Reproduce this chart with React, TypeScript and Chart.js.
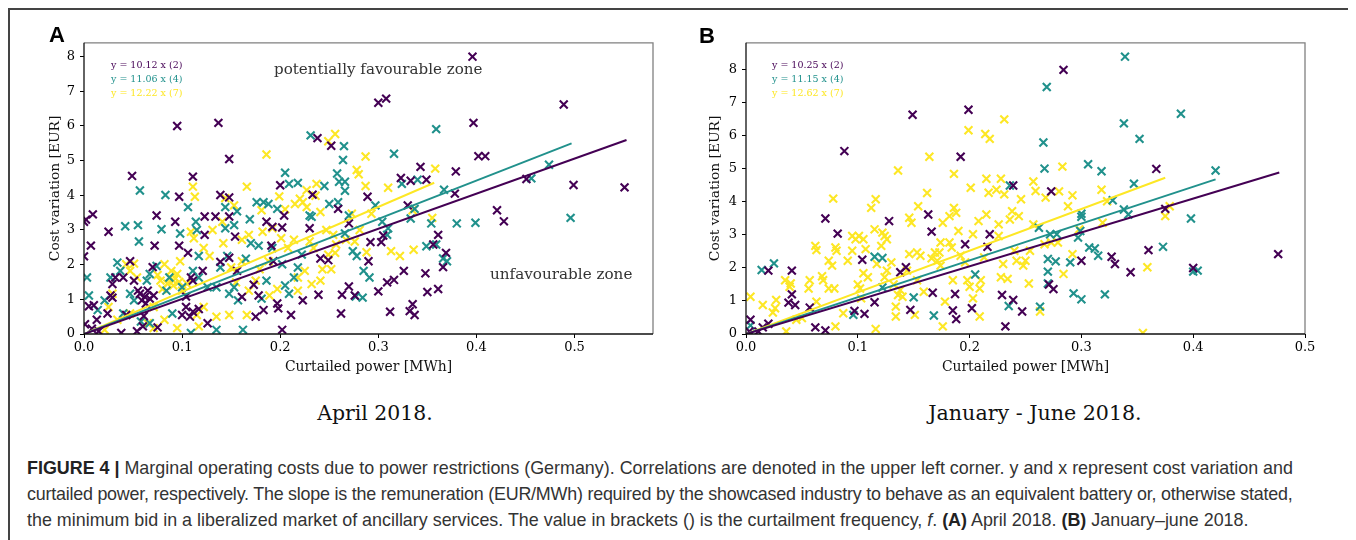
import React, { useEffect, useRef } from "react";
import { Chart, registerables } from "chart.js";

Chart.register(...registerables);

type Pt = [number, number];

const PURPLE = "#440154";
const TEAL = "#21918c";
const YELLOW = "#fde725";
const SERIES_COLORS = [PURPLE, TEAL, YELLOW];

const xTicks = [0, 0.1, 0.2, 0.3, 0.4, 0.5];
const yTicks = [0, 1, 2, 3, 4, 5, 6, 7, 8];

// ---------- Panel A: April 2018 ----------
const aprPurple: Pt[] = [
  [0.396, 8.0], [0.095, 6.0], [0.137, 6.09], [0.3, 6.67], [0.308, 6.79], [0.397, 6.09], [0.489, 6.62],
  [0.238, 5.65], [0.252, 5.43], [0.148, 5.05], [0.049, 4.56], [0.111, 4.54], [0.402, 5.13], [0.409, 5.13],
  [0.343, 4.82], [0.323, 4.5], [0.333, 4.42], [0.349, 4.45], [0.379, 4.69], [0.451, 4.47], [0.499, 4.3],
  [0.551, 4.23], [0.2, 4.29], [0.233, 4.02], [0.289, 3.96], [0.097, 3.96], [0.139, 4.01], [0.148, 3.94],
  [0.378, 4.05],
  [0.0, 3.24], [0.002, 3.3], [0.009, 3.45], [0.007, 2.55], [0.0, 2.24], [0.025, 2.95], [0.074, 3.42],
  [0.072, 2.55], [0.047, 2.1], [0.093, 3.24], [0.097, 2.55], [0.106, 2.34], [0.123, 3.39], [0.134, 3.39],
  [0.148, 3.39], [0.123, 2.86], [0.139, 2.08], [0.121, 1.82], [0.109, 1.63], [0.111, 1.54], [0.148, 2.2],
  [0.154, 2.81], [0.156, 1.82], [0.161, 1.07], [0.173, 1.42], [0.175, 0.5], [0.178, 1.11], [0.183, 0.69],
  [0.186, 3.24], [0.192, 3.09], [0.191, 2.55], [0.193, 2.1], [0.202, 3.07], [0.204, 3.42], [0.197, 0.88],
  [0.198, 0.74], [0.202, 0.12], [0.211, 0.55], [0.223, 0.97], [0.23, 3.05], [0.241, 2.18], [0.249, 2.13],
  [0.239, 1.13], [0.262, 0.59], [0.259, 3.61], [0.263, 1.13], [0.27, 1.37], [0.27, 3.19], [0.276, 1.11],
  [0.29, 2.1], [0.292, 2.65], [0.303, 2.65], [0.305, 2.84], [0.3, 1.23], [0.312, 0.64], [0.309, 1.49],
  [0.316, 1.56], [0.326, 1.82], [0.33, 3.71], [0.332, 0.66], [0.335, 0.86], [0.337, 0.55], [0.348, 1.75],
  [0.35, 1.21], [0.356, 2.58], [0.361, 2.86], [0.361, 1.3], [0.369, 2.34], [0.366, 1.93], [0.421, 3.57],
  [0.428, 3.25],
  [0.001, 0.28], [0.005, 0.8], [0.01, 0.83], [0.013, 0.41], [0.008, 0.15], [0.015, 0.08], [0.024, 0.59],
  [0.027, 1.11], [0.029, 1.44], [0.032, 1.63], [0.029, 1.05], [0.043, 0.55], [0.04, 1.63], [0.051, 1.54],
  [0.055, 1.25], [0.057, 1.16], [0.062, 1.07], [0.067, 1.02], [0.059, 0.97], [0.063, 0.88], [0.065, 1.25],
  [0.07, 1.93], [0.071, 1.11], [0.038, 0.03], [0.054, 0.08], [0.06, 0.22], [0.075, 0.19], [0.061, 0.52],
  [0.104, 0.78], [0.108, 0.5], [0.111, 0.64], [0.117, 0.72], [0.126, 0.31], [0.1, 0.55], [0.104, 1.08],
];

const aprTeal: Pt[] = [
  [0.231, 5.73], [0.265, 5.42], [0.264, 5.02], [0.258, 4.63], [0.205, 4.65], [0.209, 4.33], [0.218, 4.36],
  [0.245, 4.27], [0.26, 4.39], [0.266, 4.39], [0.316, 5.2], [0.324, 4.33], [0.34, 4.45], [0.359, 5.91],
  [0.367, 4.16], [0.456, 4.49], [0.474, 4.88], [0.057, 4.14], [0.083, 4.01],
  [0.042, 3.11], [0.055, 3.14], [0.079, 3.02], [0.056, 2.67], [0.106, 3.66], [0.098, 2.9], [0.114, 3.24],
  [0.115, 3.0], [0.117, 2.25], [0.135, 0.12], [0.144, 3.66], [0.144, 3.05], [0.153, 3.14], [0.156, 3.54],
  [0.169, 3.31], [0.165, 2.17], [0.162, 0.12], [0.176, 3.8], [0.183, 3.8], [0.188, 3.75], [0.197, 3.61],
  [0.17, 2.62], [0.178, 2.55], [0.192, 2.48], [0.202, 2.01], [0.205, 1.4], [0.209, 1.16], [0.214, 1.63],
  [0.218, 1.92], [0.222, 2.29], [0.23, 3.42], [0.232, 3.38], [0.25, 3.75], [0.259, 3.8], [0.266, 4.13],
  [0.27, 3.42], [0.266, 2.9], [0.274, 2.39], [0.278, 2.25], [0.285, 1.82], [0.277, 1.08], [0.284, 1.05],
  [0.291, 1.63], [0.297, 3.71], [0.304, 3.24], [0.309, 2.86], [0.31, 3.05], [0.333, 3.33], [0.337, 3.61],
  [0.349, 2.53], [0.354, 3.19], [0.359, 2.58], [0.366, 2.18], [0.37, 2.1], [0.38, 3.19], [0.399, 3.21],
  [0.496, 3.35],
  [0.003, 1.63], [0.005, 1.11], [0.014, 0.69], [0.021, 0.97], [0.027, 1.63], [0.034, 2.06], [0.037, 1.82],
  [0.047, 1.16], [0.051, 0.97], [0.064, 1.54], [0.067, 1.73], [0.074, 1.96], [0.087, 1.63], [0.084, 1.25],
  [0.09, 0.59], [0.1, 1.35], [0.111, 1.82], [0.117, 1.63], [0.126, 1.35], [0.135, 1.35], [0.139, 1.92],
  [0.146, 2.25], [0.153, 1.35], [0.181, 1.02], [0.186, 1.54], [0.067, 0.31], [0.04, 0.59], [0.058, 0.36],
  [0.109, 0.03], [0.148, 1.16], [0.157, 0.97],
];

const aprYellow: Pt[] = [
  [0.256, 5.77], [0.249, 5.56], [0.186, 5.18], [0.287, 5.12], [0.278, 4.73], [0.28, 4.61], [0.358, 4.77],
  [0.166, 4.25], [0.111, 4.25], [0.227, 4.15], [0.237, 4.33], [0.287, 4.27], [0.31, 4.22], [0.199, 3.97],
  [0.113, 3.96],
  [0.236, 3.99], [0.223, 3.8], [0.227, 3.66], [0.241, 3.52], [0.181, 3.57], [0.144, 3.92], [0.153, 3.71],
  [0.109, 2.95], [0.112, 2.76], [0.131, 3.0], [0.141, 3.24], [0.142, 2.62], [0.161, 2.72], [0.168, 2.86],
  [0.182, 2.95], [0.192, 3.05], [0.201, 2.76], [0.208, 2.48], [0.214, 2.72], [0.23, 2.67], [0.234, 2.48],
  [0.247, 3.0], [0.254, 2.86], [0.257, 2.58], [0.249, 2.29], [0.243, 1.87], [0.252, 1.87], [0.256, 2.34],
  [0.267, 2.72], [0.281, 3.0], [0.293, 3.47], [0.273, 3.47], [0.241, 1.54], [0.232, 1.44], [0.225, 1.82],
  [0.218, 1.25], [0.218, 1.63], [0.197, 1.3], [0.189, 1.11], [0.175, 1.54], [0.168, 1.25], [0.155, 1.49],
  [0.148, 0.55], [0.135, 0.5], [0.122, 0.78], [0.115, 0.55], [0.1, 1.25], [0.091, 1.54], [0.082, 2.01],
  [0.089, 1.82], [0.095, 1.73], [0.088, 1.63], [0.091, 1.4], [0.078, 1.54], [0.098, 2.1], [0.047, 1.82],
  [0.043, 2.01], [0.051, 2.03], [0.054, 1.63], [0.029, 1.16], [0.025, 0.78], [0.034, 0.41], [0.021, 0.12],
  [0.047, 0.59], [0.065, 0.31], [0.071, 0.17], [0.082, 0.41], [0.095, 0.17], [0.313, 2.39], [0.322, 2.25],
  [0.336, 2.43], [0.355, 3.35], [0.335, 3.57], [0.288, 2.36], [0.276, 2.67], [0.188, 2.1], [0.179, 1.87],
  [0.161, 2.1], [0.122, 2.48], [0.128, 2.25], [0.15, 1.92], [0.166, 0.55], [0.117, 0.22], [0.071, 0.78],
  [0.085, 1.45], [0.093, 1.6], [0.08, 1.3], [0.097, 1.5], [0.105, 1.45], [0.075, 1.7], [0.215, 3.75],
  [0.22, 3.9], [0.205, 3.6],
];

const aprSlopes = [10.12, 11.06, 12.22];
const aprLineEnds = [0.553, 0.497, 0.357];
const aprLegend = ["y = 10.12 x (2)", "y = 11.06 x (4)", "y = 12.22 x (7)"];

// ---------- Panel B: January - June 2018 ----------
const janPurple: Pt[] = [
  [0.088, 5.54], [0.149, 6.64], [0.199, 6.79], [0.192, 5.37], [0.284, 8.0], [0.239, 4.5], [0.273, 4.32],
  [0.367, 5.0],
  [0.071, 3.5], [0.082, 3.04], [0.128, 3.42], [0.163, 3.62], [0.166, 3.1], [0.196, 2.72], [0.218, 3.02],
  [0.216, 2.64], [0.104, 2.25], [0.143, 2.02], [0.138, 1.87], [0.02, 1.92], [0.041, 1.92], [0.041, 1.2],
  [0.044, 0.88], [0.038, 0.95], [0.057, 0.8], [0.097, 0.7], [0.106, 0.61], [0.115, 0.96], [0.147, 0.73],
  [0.167, 1.25], [0.187, 1.21], [0.185, 0.71], [0.188, 0.45], [0.202, 0.78], [0.229, 1.18], [0.239, 1.03],
  [0.247, 0.68], [0.232, 0.23], [0.062, 0.2], [0.071, 0.11], [0.271, 1.5], [0.275, 1.36], [0.3, 2.22],
  [0.327, 2.34], [0.33, 2.12], [0.344, 1.87], [0.36, 2.54], [0.375, 3.79], [0.4, 2.0], [0.476, 2.42],
  [0.004, 0.43], [0.003, 0.08], [0.015, 0.2], [0.02, 0.31], [0.011, 0.08],
];

const janTeal: Pt[] = [
  [0.339, 8.4], [0.269, 7.48], [0.389, 6.67], [0.338, 6.38], [0.352, 5.91], [0.266, 5.8], [0.267, 5.01],
  [0.306, 5.14], [0.318, 4.93], [0.42, 4.95], [0.347, 4.55], [0.236, 4.5],
  [0.014, 1.94], [0.025, 2.14], [0.004, 0.26], [0.096, 0.58], [0.115, 2.34], [0.122, 2.3], [0.122, 1.41],
  [0.15, 1.11], [0.168, 0.56], [0.205, 1.8], [0.235, 0.85], [0.262, 3.22], [0.272, 3.02], [0.278, 3.02],
  [0.27, 2.27], [0.277, 2.2], [0.27, 1.89], [0.27, 1.53], [0.263, 0.83], [0.29, 2.17], [0.293, 1.23],
  [0.3, 1.05], [0.297, 2.92], [0.299, 3.12], [0.3, 3.64], [0.3, 3.55], [0.307, 2.62], [0.312, 2.59],
  [0.315, 2.37], [0.321, 1.2], [0.328, 4.05], [0.338, 3.77], [0.342, 3.62], [0.373, 2.64], [0.398, 3.5],
  [0.4, 1.89], [0.404, 1.92],
];

const janYellow: Pt[] = [
  [0.199, 6.17], [0.214, 6.06], [0.218, 5.91], [0.231, 6.5], [0.164, 5.37], [0.136, 4.95], [0.186, 4.85],
  [0.215, 4.7], [0.228, 4.7], [0.257, 4.62], [0.283, 5.07], [0.201, 4.43], [0.217, 4.28], [0.224, 4.37],
  [0.231, 4.23], [0.259, 4.33], [0.268, 4.13], [0.292, 4.2], [0.318, 4.37], [0.162, 4.27], [0.078, 4.1],
  [0.116, 4.08], [0.246, 4.08],
  [0.004, 1.13], [0.015, 0.88], [0.027, 1.03], [0.026, 0.78], [0.024, 0.65], [0.035, 1.63], [0.039, 1.43],
  [0.04, 1.53], [0.036, 0.08], [0.045, 0.43], [0.05, 0.48], [0.056, 1.38], [0.057, 1.63], [0.062, 2.67],
  [0.063, 2.54], [0.063, 0.98], [0.069, 1.63], [0.068, 1.75], [0.074, 2.22], [0.077, 2.07], [0.074, 1.38],
  [0.079, 1.38], [0.08, 2.62], [0.081, 2.52], [0.08, 0.23], [0.087, 0.63], [0.091, 2.22], [0.095, 2.97],
  [0.095, 2.52], [0.098, 2.87], [0.101, 2.97], [0.105, 2.87], [0.107, 2.57], [0.1, 1.5], [0.102, 1.38],
  [0.105, 1.84], [0.109, 1.72], [0.103, 1.08], [0.112, 3.82], [0.115, 3.17], [0.117, 2.12], [0.116, 0.15],
  [0.121, 2.67], [0.122, 3.07], [0.124, 2.97], [0.126, 2.87], [0.126, 1.92], [0.124, 1.72], [0.13, 2.17],
  [0.132, 1.5], [0.134, 0.83], [0.136, 1.18], [0.134, 0.53], [0.138, 1.33], [0.14, 1.13], [0.144, 1.92],
  [0.146, 2.42], [0.146, 3.52], [0.148, 3.37], [0.154, 3.87], [0.153, 2.47], [0.156, 2.37], [0.153, 1.63],
  [0.151, 0.58], [0.159, 1.28], [0.166, 2.29], [0.169, 2.47], [0.171, 2.22], [0.173, 2.47], [0.174, 2.77],
  [0.176, 3.37], [0.174, 2.07], [0.176, 0.23], [0.178, 0.98], [0.182, 3.57], [0.182, 2.77], [0.184, 2.62],
  [0.185, 1.63], [0.186, 3.82], [0.188, 3.67], [0.19, 3.12], [0.192, 2.37], [0.196, 2.17], [0.198, 1.63],
  [0.2, 1.43], [0.203, 1.08], [0.203, 3.02], [0.208, 3.42], [0.21, 1.63], [0.209, 1.38], [0.209, 0.53],
  [0.213, 2.32], [0.215, 3.62], [0.226, 3.32], [0.226, 2.97], [0.228, 1.72], [0.23, 2.12], [0.234, 1.67],
  [0.236, 3.47], [0.238, 3.72], [0.24, 2.52], [0.242, 2.22], [0.244, 3.57], [0.248, 2.07], [0.25, 2.22],
  [0.253, 1.53], [0.254, 2.52], [0.257, 3.32], [0.263, 0.68], [0.267, 2.72], [0.273, 2.77], [0.279, 2.77],
  [0.28, 4.32], [0.284, 1.82], [0.288, 3.87], [0.292, 2.42], [0.298, 3.17], [0.319, 3.37], [0.323, 4.02],
  [0.355, 0.03], [0.359, 2.02], [0.375, 3.57], [0.379, 3.87],
];

const janSlopes = [10.25, 11.15, 12.62];
const janLineEnds = [0.477, 0.42, 0.375];
const janLegend = ["y = 10.25 x (2)", "y = 11.15 x (4)", "y = 12.62 x (7)"];

const SERIF = "'DejaVu Serif', serif";
const SANS = "'Liberation Sans', Arial, sans-serif";

const spinesPlugin = {
  id: "spines",
  afterDraw(chart: any) {
    const { ctx, chartArea } = chart;
    const { left, top, right, bottom } = chartArea;
    ctx.save();
    ctx.lineWidth = 1.3;
    ctx.strokeStyle = "#808080";
    ctx.beginPath();
    ctx.moveTo(left, top);
    ctx.lineTo(right, top);
    ctx.lineTo(right, bottom);
    ctx.stroke();
    ctx.strokeStyle = "#111";
    ctx.beginPath();
    ctx.moveTo(left, top);
    ctx.lineTo(left, bottom);
    ctx.lineTo(right, bottom);
    ctx.stroke();
    ctx.restore();
  },
};

type PanelProps = {
  series: Pt[][];
  slopes: number[];
  ends: number[];
  xMax: number;
  yMax: number;
  width: number;
  height: number;
  yAxisWidth: number;
  padRight: number;
};

function Panel({ series, slopes, ends, xMax, yMax, width, height, yAxisWidth, padRight }: PanelProps) {
  const ref = useRef<HTMLCanvasElement>(null);
  useEffect(() => {
    if (!ref.current) return;
    const lineSets = slopes.map((s, i) => ({
      type: "line" as const,
      data: [
        { x: 0, y: 0 },
        { x: ends[i], y: s * ends[i] },
      ],
      borderColor: SERIES_COLORS[i],
      borderWidth: 2,
      pointRadius: 0,
      fill: false,
      order: 0,
    }));
    const scatterSets = series.map((pts, i) => ({
      type: "scatter" as const,
      data: pts.map(([x, y]) => ({ x, y })),
      pointStyle: "crossRot",
      pointRadius: 5.6,
      pointHoverRadius: 5.6,
      borderColor: SERIES_COLORS[i],
      backgroundColor: SERIES_COLORS[i],
      pointBorderWidth: 2.1,
      borderWidth: 2.1,
      order: 1 + i,
    }));
    const chart = new Chart(ref.current, {
      type: "scatter",
      data: { datasets: [...lineSets, ...scatterSets] as any },
      options: {
        animation: false,
        responsive: false,
        devicePixelRatio: 1,
        layout: { padding: { left: 0, top: 10, right: padRight, bottom: 0 } },
        plugins: { legend: { display: false }, tooltip: { enabled: false } },
        scales: {
          x: {
            type: "linear",
            min: 0,
            max: xMax,
            afterBuildTicks: (s: any) => {
              s.ticks = xTicks.map((v) => ({ value: v }));
            },
            afterFit: (s: any) => {
              s.height = height - 304;
            },
            ticks: {
              callback: (v: any) => Number(v).toFixed(1),
              font: { family: SERIF, size: 13 },
              color: "#000",
              padding: 2,
              maxRotation: 0,
              autoSkip: false,
            },
            grid: { display: true, drawOnChartArea: false, drawTicks: true, tickLength: 4, color: "#000", lineWidth: 1 },
            border: { display: false },
            title: {
              display: true,
              text: "Curtailed power [MWh]",
              font: { family: SERIF, size: 13.9 },
              color: "#111",
              padding: { top: 4, bottom: 4 },
            },
          },
          y: {
            type: "linear",
            min: 0,
            max: yMax,
            afterBuildTicks: (s: any) => {
              s.ticks = yTicks.map((v) => ({ value: v }));
            },
            afterFit: (s: any) => {
              s.width = yAxisWidth;
            },
            ticks: {
              callback: (v: any) => String(v),
              font: { family: SERIF, size: 13 },
              color: "#000",
              padding: 5,
              autoSkip: false,
            },
            grid: { display: true, drawOnChartArea: false, drawTicks: true, tickLength: 4, color: "#000", lineWidth: 1 },
            border: { display: false },
            title: {
              display: true,
              text: "Cost variation [EUR]",
              font: { family: SERIF, size: 13.8 },
              color: "#111",
              padding: { top: 4, bottom: 4 },
            },
          },
        },
      },
      plugins: [spinesPlugin],
    } as any);
    return () => chart.destroy();
  }, []);
  return <canvas ref={ref} width={width} height={height} style={{ width, height, display: "block" }} />;
}

const abs = (left: number, top: number, extra: React.CSSProperties = {}): React.CSSProperties => ({
  position: "absolute",
  left: left - 10,
  top: top - 10,
  whiteSpace: "nowrap",
  ...extra,
});

function Legend({ lines, left }: { lines: string[]; left: number }) {
  return (
    <>
      {lines.map((t, i) => (
        <div
          key={i}
          style={abs(left, 58 + i * 14, {
            fontFamily: SERIF,
            fontSize: 9.5,
            lineHeight: "14px",
            color: SERIES_COLORS[i],
          })}
        >
          {t}
        </div>
      ))}
    </>
  );
}

export default function App() {
  return (
    <div
      style={{
        position: "relative",
        width: 1345,
        height: 545,
        border: "2px solid #444",
        boxSizing: "border-box",
        background: "#fff",
        overflow: "hidden",
      }}
    >
      <div style={abs(43, 30)}>
        <Panel
          series={[aprPurple, aprTeal, aprYellow]}
          slopes={aprSlopes}
          ends={aprLineEnds}
          xMax={0.58}
          yMax={8.4}
          width={627}
          height={350}
          yAxisWidth={41}
          padRight={17}
        />
      </div>
      <div style={abs(703, 30)}>
        <Panel
          series={[janPurple, janTeal, janYellow]}
          slopes={janSlopes}
          ends={janLineEnds}
          xMax={0.5}
          yMax={8.82}
          width={619}
          height={350}
          yAxisWidth={43}
          padRight={17}
        />
      </div>

      <div style={abs(49, 24, { fontFamily: SANS, fontWeight: "bold", fontSize: 22, lineHeight: "22px", color: "#000" })}>A</div>
      <div style={abs(699, 25, { fontFamily: SANS, fontWeight: "bold", fontSize: 22, lineHeight: "22px", color: "#000" })}>B</div>

      <Legend lines={aprLegend} left={111} />
      <Legend lines={janLegend} left={772} />

      <div style={abs(274, 60, { fontFamily: SERIF, fontSize: 15.1, lineHeight: "18px", color: "#333" })}>
        potentially favourable zone
      </div>
      <div style={abs(490, 265, { fontFamily: SERIF, fontSize: 15.2, lineHeight: "18px", color: "#333" })}>
        unfavourable zone
      </div>

      <div style={abs(175, 401, { width: 400, textAlign: "center", fontFamily: SERIF, fontSize: 20.4, lineHeight: "24px", color: "#111" })}>
        April 2018.
      </div>
      <div style={abs(835, 401, { width: 400, textAlign: "center", fontFamily: SERIF, fontSize: 20.6, lineHeight: "24px", color: "#111" })}>
        January - June 2018.
      </div>

      <div style={abs(27, 455, { fontFamily: SANS, fontSize: 17.9, lineHeight: "26px", color: "#333" })}>
        <div>
          <b style={{ color: "#222" }}>FIGURE 4 |</b> Marginal operating costs due to power restrictions (Germany). Correlations are denoted in the upper left corner. y and x represent cost variation and
        </div>
        <div style={{ letterSpacing: "-0.22px" }}>
          curtailed power, respectively. The slope is the remuneration (EUR/MWh) required by the showcased industry to behave as an equivalent battery or, otherwise stated,
        </div>
        <div>
          the minimum bid in a liberalized market of ancillary services. The value in brackets () is the curtailment frequency, <i>f</i>. <b style={{ color: "#222" }}>(A)</b> April 2018. <b style={{ color: "#222" }}>(B)</b> January–june 2018.
        </div>
      </div>
    </div>
  );
}
